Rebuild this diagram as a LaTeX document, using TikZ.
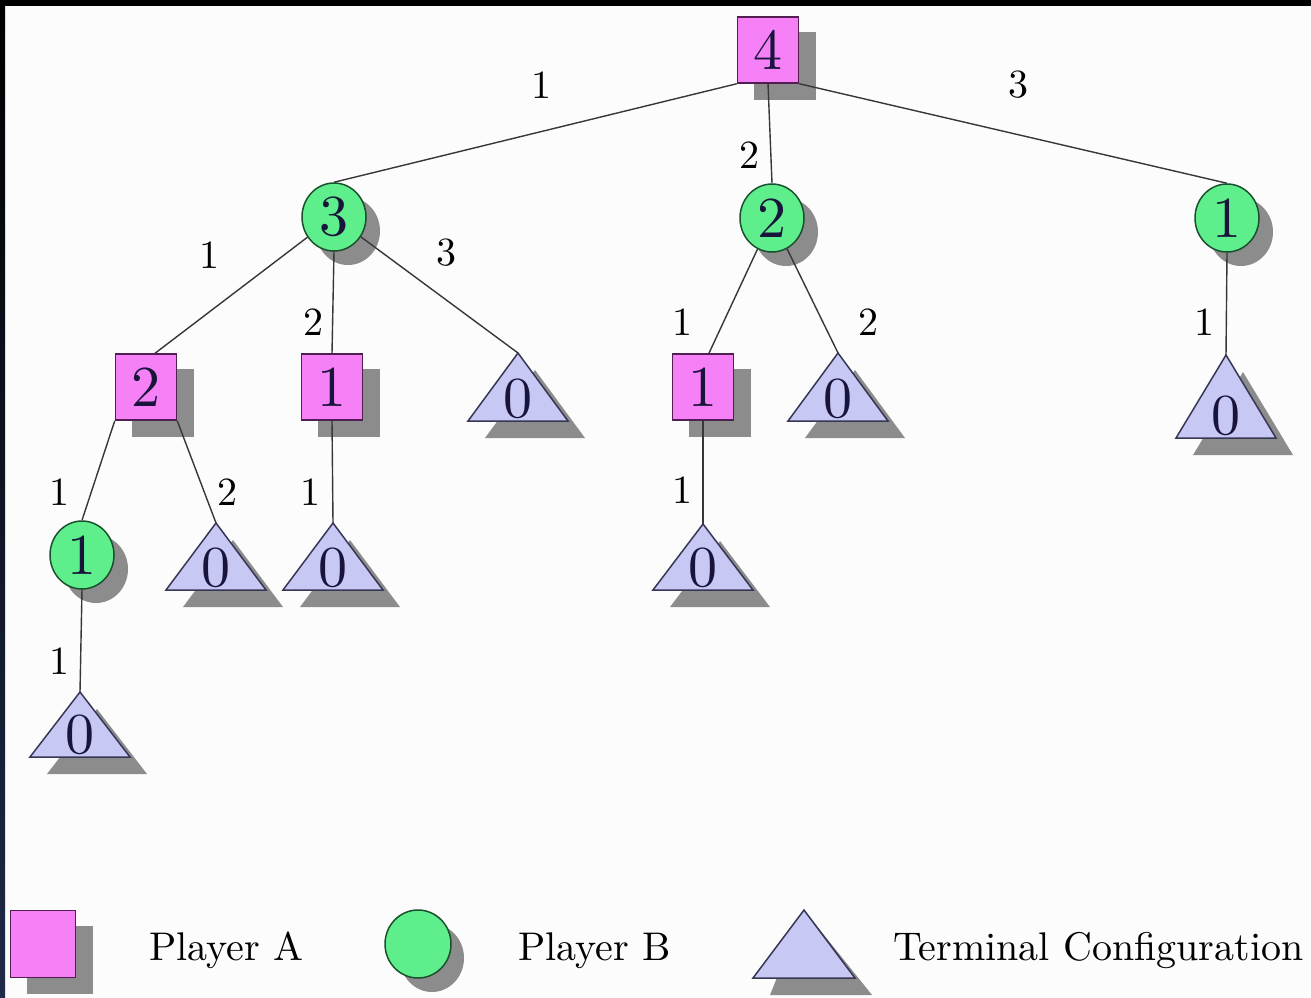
\documentclass[tikz,border=0pt]{standalone}
\usepackage{fontspec}
\newfontfamily\lmten{lmroman10-regular}[Extension=.otf]
\usetikzlibrary{shapes.geometric,calc}
\definecolor{pinkA}{RGB}{246,128,246}
\definecolor{pinkAline}{RGB}{80,30,80}
\definecolor{greenB}{RGB}{95,238,140}
\definecolor{greenBline}{RGB}{25,80,45}
\definecolor{termfill}{RGB}{200,200,245}
\definecolor{termline}{RGB}{55,55,85}
\definecolor{shadowc}{RGB}{140,140,140}
\definecolor{digitc}{RGB}{25,20,60}
\definecolor{edgec}{RGB}{55,55,55}
\definecolor{navyedge}{RGB}{30,42,72}
\definecolor{paper}{RGB}{252,252,252}
\pgfdeclarelayer{bg}\pgfdeclarelayer{shadow}\pgfdeclarelayer{edges}
\pgfsetlayers{bg,shadow,edges,main}
\tikzset{
  nodedigit/.style={font=\lmten\fontsize{58}{58}\selectfont, text=digitc, inner sep=0pt},
  playerA/.style={nodedigit, rectangle, draw=pinkAline, fill=pinkA, line width=1.5pt, minimum width=61pt, minimum height=66pt},
  playerB/.style={nodedigit, ellipse, draw=greenBline, fill=greenB, line width=1.5pt, minimum width=64pt, minimum height=68pt},
  termshape/.style={draw=termline, fill=termfill, line width=1.5pt},
  termdigit/.style={nodedigit, anchor=base},
  shadowfill/.style={fill=shadowc},
  edge/.style={draw=edgec, line width=1.4pt},
  elabel/.style={font=\lmten\fontsize{40}{40}\selectfont, text=black, inner sep=0pt},
  legendtext/.style={font=\lmten\fontsize{40}{40}\selectfont, text=black, anchor=base west, inner sep=0pt},
}
\newcommand\sqshadow[1]{%
  \begin{pgfonlayer}{shadow}
    \fill[shadowfill] ([shift={(17,16)}]#1.south west) rectangle ([shift={(17,16)}]#1.north east);
  \end{pgfonlayer}}
\newcommand\elshadow[1]{%
  \begin{pgfonlayer}{shadow}
    \fill[shadowfill] ([shift={(14,14)}]#1.center) ellipse [x radius=32pt, y radius=34pt];
  \end{pgfonlayer}}
% name, apex x, apex y, base y
\newcommand\termnode[4]{%
  \coordinate (#1-top) at (#2,#3);
  \begin{pgfonlayer}{shadow}
    \fill[shadowfill,shift={(17,17)}] (#2,#3) -- ({#2-50},#4) -- ({#2+50},#4) -- cycle;
  \end{pgfonlayer}
  \filldraw[termshape] (#1-top) -- ({#2-50},#4) -- ({#2+50},#4) -- cycle;
  \node[termdigit] (#1) at (#2,{#4-4}) {0};
}
\begin{document}
\begin{tikzpicture}[x=1pt,y=-1pt]
\useasboundingbox (0,0) rectangle (1311,997);
\begin{pgfonlayer}{bg}
  \fill[paper] (0,0) rectangle (1311,997);
  \fill[black] (0,0) rectangle (1311,6);
  \shade[top color=black, bottom color=navyedge] (0,0) rectangle (5,997);
\end{pgfonlayer}

% level 0
\node[playerA] (r) at (768,50) {4};
% level 1
\node[playerB] (b3) at (334,217) {3};
\node[playerB] (b2) at (772,218) {2};
\node[playerB] (b1r) at (1227,218) {1};
% level 2
\node[playerA] (a2) at (146,387) {2};
\node[playerA] (a1a) at (332,387) {1};
\termnode{t3}{518}{353}{421}
\node[playerA] (a1b) at (703,387) {1};
\termnode{t2}{838}{353}{421}
\termnode{tr}{1226}{355}{438}
% level 3
\node[playerB] (b1l) at (82,555) {1};
\termnode{ta2}{216}{523}{590}
\termnode{ta1a}{333}{523}{590}
\termnode{ta1b}{703}{524}{590}
% level 4
\termnode{tb1l}{80}{692}{757}

\sqshadow{r}\sqshadow{a2}\sqshadow{a1a}\sqshadow{a1b}
\elshadow{b3}\elshadow{b2}\elshadow{b1r}\elshadow{b1l}

\begin{pgfonlayer}{edges}
  \draw[edge] (r.south west) -- (b3.north);
  \draw[edge] (r.south) -- (b2.north);
  \draw[edge] (r.south east) -- (b1r.north);
  \draw[edge] (b3) -- (a2.75);
  \draw[edge] (b3.south) -- (a1a.north);
  \draw[edge] (b3) -- (t3-top);
  \draw[edge] (b2) -- (a1b.80);
  \draw[edge] (b2) -- (t2-top);
  \draw[edge] (b1r.south) -- (tr-top);
  \draw[edge] (a2.south west) -- (b1l.north);
  \draw[edge] (a2.south east) -- (ta2-top);
  \draw[edge] (a1a.south) -- (ta1a-top);
  \draw[edge] (a1b.south) -- (ta1b-top);
  \draw[edge] (b1l.south) -- (tb1l-top);
\end{pgfonlayer}

% edge labels
\node[elabel] (l1) at (541,85) {1};
\node[elabel] (l2) at (749,155) {2};
\node[elabel] (l3) at (1018,85) {3};
\node[elabel] (l4) at (209,255) {1};
\node[elabel] (l5) at (313,322) {2};
\node[elabel] (l6) at (446,253) {3};
\node[elabel] (l7) at (682,322) {1};
\node[elabel] (l8) at (868,322) {2};
\node[elabel] (l9) at (1204,322) {1};
\node[elabel] (l10) at (59,492) {1};
\node[elabel] (l11) at (227,492) {2};
\node[elabel] (l12) at (310,492) {1};
\node[elabel] (l13) at (682,490) {1};
\node[elabel] (l14) at (59,661) {1};

% legend
\node[playerA, minimum width=65pt, minimum height=67pt] (legA) at (43,944) {};
\sqshadow{legA}
\node[playerB, minimum width=66pt, minimum height=68pt] (legB) at (418,944) {};
\elshadow{legB}
\coordinate (legT-top) at (804,910);
\begin{pgfonlayer}{shadow}
  \fill[shadowfill,shift={(17,17)}] (legT-top) -- (753,978) -- (855,978) -- cycle;
\end{pgfonlayer}
\filldraw[termshape] (legT-top) -- (753,978) -- (855,978) -- cycle;
\node[legendtext] (txA) at (149,960) {Player A};
\node[legendtext] (txB) at (518,960) {Player B};
\node[legendtext] (txT) at (893,960) {Terminal Configuration};
\end{tikzpicture}
\end{document}
